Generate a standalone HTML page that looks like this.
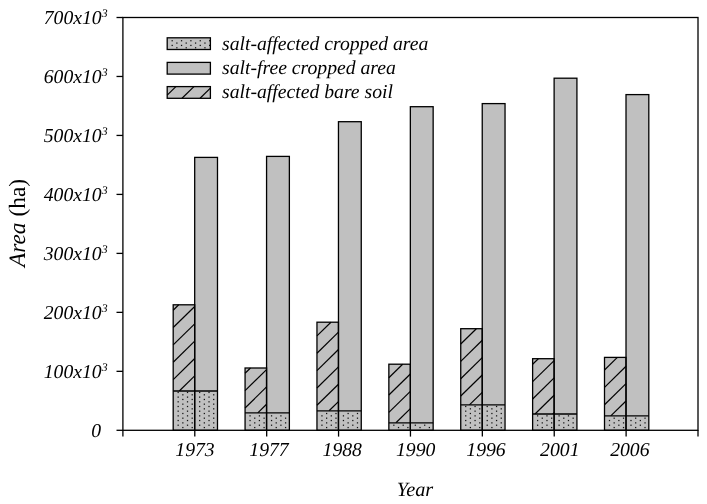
<!DOCTYPE html>
<html><head><meta charset="utf-8"><style>
html,body{margin:0;padding:0;background:#fff;width:707px;height:504px;overflow:hidden;font-family:"Liberation Serif",serif;}
svg{display:block;will-change:transform} text{text-rendering:geometricPrecision}
</style></head><body><svg width="707" height="504" viewBox="0 0 707 504"><rect x="0" y="0" width="707" height="504" fill="#fff"/><rect x="194.69" y="157.40" width="22.80" height="233.60" fill="#c0c0c0"/><rect x="173.19" y="304.80" width="21.50" height="86.20" fill="#c0c0c0"/><g stroke="#000" stroke-width="1.2"><line x1="173.19" y1="310.20" x2="178.70" y2="304.80"/><line x1="173.19" y1="327.55" x2="194.69" y2="306.48"/><line x1="173.19" y1="344.90" x2="194.69" y2="323.83"/><line x1="173.19" y1="362.25" x2="194.69" y2="341.18"/><line x1="173.19" y1="379.60" x2="194.69" y2="358.53"/><line x1="179.26" y1="391.00" x2="194.69" y2="375.88"/></g><rect x="173.19" y="391.00" width="44.30" height="39.30" fill="#c0c0c0"/><g fill="#111"><rect x="182.22" y="426.93" width="1.25" height="1.25"/><rect x="191.58" y="426.93" width="1.25" height="1.25"/><rect x="177.54" y="424.59" width="1.25" height="1.25"/><rect x="186.90" y="424.59" width="1.25" height="1.25"/><rect x="182.22" y="422.25" width="1.25" height="1.25"/><rect x="191.58" y="422.25" width="1.25" height="1.25"/><rect x="177.54" y="419.91" width="1.25" height="1.25"/><rect x="186.90" y="419.91" width="1.25" height="1.25"/><rect x="182.22" y="417.56" width="1.25" height="1.25"/><rect x="191.58" y="417.56" width="1.25" height="1.25"/><rect x="177.54" y="415.23" width="1.25" height="1.25"/><rect x="186.90" y="415.23" width="1.25" height="1.25"/><rect x="182.22" y="412.88" width="1.25" height="1.25"/><rect x="191.58" y="412.88" width="1.25" height="1.25"/><rect x="177.54" y="410.55" width="1.25" height="1.25"/><rect x="186.90" y="410.55" width="1.25" height="1.25"/><rect x="182.22" y="408.21" width="1.25" height="1.25"/><rect x="191.58" y="408.21" width="1.25" height="1.25"/><rect x="177.54" y="405.87" width="1.25" height="1.25"/><rect x="186.90" y="405.87" width="1.25" height="1.25"/><rect x="182.22" y="403.53" width="1.25" height="1.25"/><rect x="191.58" y="403.53" width="1.25" height="1.25"/><rect x="177.54" y="401.19" width="1.25" height="1.25"/><rect x="186.90" y="401.19" width="1.25" height="1.25"/><rect x="182.22" y="398.85" width="1.25" height="1.25"/><rect x="191.58" y="398.85" width="1.25" height="1.25"/><rect x="177.54" y="396.50" width="1.25" height="1.25"/><rect x="186.90" y="396.50" width="1.25" height="1.25"/><rect x="182.22" y="394.17" width="1.25" height="1.25"/><rect x="191.58" y="394.17" width="1.25" height="1.25"/><rect x="177.54" y="391.83" width="1.25" height="1.25"/><rect x="186.90" y="391.83" width="1.25" height="1.25"/><rect x="203.72" y="426.93" width="1.25" height="1.25"/><rect x="213.08" y="426.93" width="1.25" height="1.25"/><rect x="199.04" y="424.59" width="1.25" height="1.25"/><rect x="208.40" y="424.59" width="1.25" height="1.25"/><rect x="203.72" y="422.25" width="1.25" height="1.25"/><rect x="213.08" y="422.25" width="1.25" height="1.25"/><rect x="199.04" y="419.91" width="1.25" height="1.25"/><rect x="208.40" y="419.91" width="1.25" height="1.25"/><rect x="203.72" y="417.56" width="1.25" height="1.25"/><rect x="213.08" y="417.56" width="1.25" height="1.25"/><rect x="199.04" y="415.23" width="1.25" height="1.25"/><rect x="208.40" y="415.23" width="1.25" height="1.25"/><rect x="203.72" y="412.88" width="1.25" height="1.25"/><rect x="213.08" y="412.88" width="1.25" height="1.25"/><rect x="199.04" y="410.55" width="1.25" height="1.25"/><rect x="208.40" y="410.55" width="1.25" height="1.25"/><rect x="203.72" y="408.21" width="1.25" height="1.25"/><rect x="213.08" y="408.21" width="1.25" height="1.25"/><rect x="199.04" y="405.87" width="1.25" height="1.25"/><rect x="208.40" y="405.87" width="1.25" height="1.25"/><rect x="203.72" y="403.53" width="1.25" height="1.25"/><rect x="213.08" y="403.53" width="1.25" height="1.25"/><rect x="199.04" y="401.19" width="1.25" height="1.25"/><rect x="208.40" y="401.19" width="1.25" height="1.25"/><rect x="203.72" y="398.85" width="1.25" height="1.25"/><rect x="213.08" y="398.85" width="1.25" height="1.25"/><rect x="199.04" y="396.50" width="1.25" height="1.25"/><rect x="208.40" y="396.50" width="1.25" height="1.25"/><rect x="203.72" y="394.17" width="1.25" height="1.25"/><rect x="213.08" y="394.17" width="1.25" height="1.25"/><rect x="199.04" y="391.83" width="1.25" height="1.25"/><rect x="208.40" y="391.83" width="1.25" height="1.25"/></g><g fill="none" stroke="#000" stroke-width="1.3"><rect x="194.69" y="157.40" width="22.80" height="272.90"/><rect x="173.19" y="304.80" width="21.50" height="125.50"/><line x1="173.19" y1="391.00" x2="217.49" y2="391.00"/></g><rect x="266.57" y="156.40" width="22.80" height="256.50" fill="#c0c0c0"/><rect x="245.07" y="368.00" width="21.50" height="44.90" fill="#c0c0c0"/><g stroke="#000" stroke-width="1.2"><line x1="245.07" y1="373.30" x2="250.48" y2="368.00"/><line x1="245.07" y1="390.65" x2="266.57" y2="369.58"/><line x1="245.07" y1="408.00" x2="266.57" y2="386.93"/><line x1="257.78" y1="412.90" x2="266.57" y2="404.28"/></g><rect x="245.07" y="412.90" width="44.30" height="17.40" fill="#c0c0c0"/><g fill="#111"><rect x="254.11" y="426.93" width="1.25" height="1.25"/><rect x="263.47" y="426.93" width="1.25" height="1.25"/><rect x="249.43" y="424.59" width="1.25" height="1.25"/><rect x="258.79" y="424.59" width="1.25" height="1.25"/><rect x="254.11" y="422.25" width="1.25" height="1.25"/><rect x="263.47" y="422.25" width="1.25" height="1.25"/><rect x="249.43" y="419.91" width="1.25" height="1.25"/><rect x="258.79" y="419.91" width="1.25" height="1.25"/><rect x="254.11" y="417.56" width="1.25" height="1.25"/><rect x="263.47" y="417.56" width="1.25" height="1.25"/><rect x="249.43" y="415.23" width="1.25" height="1.25"/><rect x="258.79" y="415.23" width="1.25" height="1.25"/><rect x="275.61" y="426.93" width="1.25" height="1.25"/><rect x="284.97" y="426.93" width="1.25" height="1.25"/><rect x="270.93" y="424.59" width="1.25" height="1.25"/><rect x="280.29" y="424.59" width="1.25" height="1.25"/><rect x="275.61" y="422.25" width="1.25" height="1.25"/><rect x="284.97" y="422.25" width="1.25" height="1.25"/><rect x="270.93" y="419.91" width="1.25" height="1.25"/><rect x="280.29" y="419.91" width="1.25" height="1.25"/><rect x="275.61" y="417.56" width="1.25" height="1.25"/><rect x="284.97" y="417.56" width="1.25" height="1.25"/><rect x="270.93" y="415.23" width="1.25" height="1.25"/><rect x="280.29" y="415.23" width="1.25" height="1.25"/></g><g fill="none" stroke="#000" stroke-width="1.3"><rect x="266.57" y="156.40" width="22.80" height="273.90"/><rect x="245.07" y="368.00" width="21.50" height="62.30"/><line x1="245.07" y1="412.90" x2="289.38" y2="412.90"/></g><rect x="338.46" y="121.70" width="22.80" height="289.10" fill="#c0c0c0"/><rect x="316.96" y="322.20" width="21.50" height="88.60" fill="#c0c0c0"/><g stroke="#000" stroke-width="1.2"><line x1="316.96" y1="335.90" x2="330.94" y2="322.20"/><line x1="316.96" y1="353.25" x2="338.46" y2="332.18"/><line x1="316.96" y1="370.60" x2="338.46" y2="349.53"/><line x1="316.96" y1="387.95" x2="338.46" y2="366.88"/><line x1="316.96" y1="405.30" x2="338.46" y2="384.23"/><line x1="329.05" y1="410.80" x2="338.46" y2="401.58"/></g><rect x="316.96" y="410.80" width="44.30" height="19.50" fill="#c0c0c0"/><g fill="#111"><rect x="326.00" y="426.93" width="1.25" height="1.25"/><rect x="335.36" y="426.93" width="1.25" height="1.25"/><rect x="321.32" y="424.59" width="1.25" height="1.25"/><rect x="330.68" y="424.59" width="1.25" height="1.25"/><rect x="326.00" y="422.25" width="1.25" height="1.25"/><rect x="335.36" y="422.25" width="1.25" height="1.25"/><rect x="321.32" y="419.91" width="1.25" height="1.25"/><rect x="330.68" y="419.91" width="1.25" height="1.25"/><rect x="326.00" y="417.56" width="1.25" height="1.25"/><rect x="335.36" y="417.56" width="1.25" height="1.25"/><rect x="321.32" y="415.23" width="1.25" height="1.25"/><rect x="330.68" y="415.23" width="1.25" height="1.25"/><rect x="326.00" y="412.88" width="1.25" height="1.25"/><rect x="335.36" y="412.88" width="1.25" height="1.25"/><rect x="347.50" y="426.93" width="1.25" height="1.25"/><rect x="356.86" y="426.93" width="1.25" height="1.25"/><rect x="342.82" y="424.59" width="1.25" height="1.25"/><rect x="352.18" y="424.59" width="1.25" height="1.25"/><rect x="347.50" y="422.25" width="1.25" height="1.25"/><rect x="356.86" y="422.25" width="1.25" height="1.25"/><rect x="342.82" y="419.91" width="1.25" height="1.25"/><rect x="352.18" y="419.91" width="1.25" height="1.25"/><rect x="347.50" y="417.56" width="1.25" height="1.25"/><rect x="356.86" y="417.56" width="1.25" height="1.25"/><rect x="342.82" y="415.23" width="1.25" height="1.25"/><rect x="352.18" y="415.23" width="1.25" height="1.25"/><rect x="347.50" y="412.88" width="1.25" height="1.25"/><rect x="356.86" y="412.88" width="1.25" height="1.25"/></g><g fill="none" stroke="#000" stroke-width="1.3"><rect x="338.46" y="121.70" width="22.80" height="308.60"/><rect x="316.96" y="322.20" width="21.50" height="108.10"/><line x1="316.96" y1="410.80" x2="361.26" y2="410.80"/></g><rect x="410.35" y="106.70" width="22.80" height="316.10" fill="#c0c0c0"/><rect x="388.85" y="364.20" width="21.50" height="58.60" fill="#c0c0c0"/><g stroke="#000" stroke-width="1.2"><line x1="388.85" y1="377.70" x2="402.63" y2="364.20"/><line x1="388.85" y1="395.05" x2="410.35" y2="373.98"/><line x1="388.85" y1="412.40" x2="410.35" y2="391.33"/><line x1="395.94" y1="422.80" x2="410.35" y2="408.68"/></g><rect x="388.85" y="422.80" width="44.30" height="7.50" fill="#c0c0c0"/><g fill="#111"><rect x="397.89" y="426.93" width="1.25" height="1.25"/><rect x="407.25" y="426.93" width="1.25" height="1.25"/><rect x="393.21" y="424.59" width="1.25" height="1.25"/><rect x="402.57" y="424.59" width="1.25" height="1.25"/><rect x="419.39" y="426.93" width="1.25" height="1.25"/><rect x="428.75" y="426.93" width="1.25" height="1.25"/><rect x="414.71" y="424.59" width="1.25" height="1.25"/><rect x="424.07" y="424.59" width="1.25" height="1.25"/></g><g fill="none" stroke="#000" stroke-width="1.3"><rect x="410.35" y="106.70" width="22.80" height="323.60"/><rect x="388.85" y="364.20" width="21.50" height="66.10"/><line x1="388.85" y1="422.80" x2="433.15" y2="422.80"/></g><rect x="482.24" y="103.60" width="22.80" height="301.30" fill="#c0c0c0"/><rect x="460.74" y="328.70" width="21.50" height="76.20" fill="#c0c0c0"/><g stroke="#000" stroke-width="1.2"><line x1="460.74" y1="344.00" x2="476.35" y2="328.70"/><line x1="460.74" y1="361.35" x2="482.24" y2="340.28"/><line x1="460.74" y1="378.70" x2="482.24" y2="357.63"/><line x1="460.74" y1="396.05" x2="482.24" y2="374.98"/><line x1="469.41" y1="404.90" x2="482.24" y2="392.33"/></g><rect x="460.74" y="404.90" width="44.30" height="25.40" fill="#c0c0c0"/><g fill="#111"><rect x="469.77" y="426.93" width="1.25" height="1.25"/><rect x="479.13" y="426.93" width="1.25" height="1.25"/><rect x="465.09" y="424.59" width="1.25" height="1.25"/><rect x="474.45" y="424.59" width="1.25" height="1.25"/><rect x="469.77" y="422.25" width="1.25" height="1.25"/><rect x="479.13" y="422.25" width="1.25" height="1.25"/><rect x="465.09" y="419.91" width="1.25" height="1.25"/><rect x="474.45" y="419.91" width="1.25" height="1.25"/><rect x="469.77" y="417.56" width="1.25" height="1.25"/><rect x="479.13" y="417.56" width="1.25" height="1.25"/><rect x="465.09" y="415.23" width="1.25" height="1.25"/><rect x="474.45" y="415.23" width="1.25" height="1.25"/><rect x="469.77" y="412.88" width="1.25" height="1.25"/><rect x="479.13" y="412.88" width="1.25" height="1.25"/><rect x="465.09" y="410.55" width="1.25" height="1.25"/><rect x="474.45" y="410.55" width="1.25" height="1.25"/><rect x="469.77" y="408.21" width="1.25" height="1.25"/><rect x="479.13" y="408.21" width="1.25" height="1.25"/><rect x="465.09" y="405.87" width="1.25" height="1.25"/><rect x="474.45" y="405.87" width="1.25" height="1.25"/><rect x="491.27" y="426.93" width="1.25" height="1.25"/><rect x="500.63" y="426.93" width="1.25" height="1.25"/><rect x="486.59" y="424.59" width="1.25" height="1.25"/><rect x="495.95" y="424.59" width="1.25" height="1.25"/><rect x="491.27" y="422.25" width="1.25" height="1.25"/><rect x="500.63" y="422.25" width="1.25" height="1.25"/><rect x="486.59" y="419.91" width="1.25" height="1.25"/><rect x="495.95" y="419.91" width="1.25" height="1.25"/><rect x="491.27" y="417.56" width="1.25" height="1.25"/><rect x="500.63" y="417.56" width="1.25" height="1.25"/><rect x="486.59" y="415.23" width="1.25" height="1.25"/><rect x="495.95" y="415.23" width="1.25" height="1.25"/><rect x="491.27" y="412.88" width="1.25" height="1.25"/><rect x="500.63" y="412.88" width="1.25" height="1.25"/><rect x="486.59" y="410.55" width="1.25" height="1.25"/><rect x="495.95" y="410.55" width="1.25" height="1.25"/><rect x="491.27" y="408.21" width="1.25" height="1.25"/><rect x="500.63" y="408.21" width="1.25" height="1.25"/><rect x="486.59" y="405.87" width="1.25" height="1.25"/><rect x="495.95" y="405.87" width="1.25" height="1.25"/></g><g fill="none" stroke="#000" stroke-width="1.3"><rect x="482.24" y="103.60" width="22.80" height="326.70"/><rect x="460.74" y="328.70" width="21.50" height="101.60"/><line x1="460.74" y1="404.90" x2="505.04" y2="404.90"/></g><rect x="554.12" y="78.20" width="22.80" height="335.80" fill="#c0c0c0"/><rect x="532.62" y="358.70" width="21.50" height="55.30" fill="#c0c0c0"/><g stroke="#000" stroke-width="1.2"><line x1="532.62" y1="364.30" x2="538.34" y2="358.70"/><line x1="532.62" y1="381.65" x2="554.12" y2="360.58"/><line x1="532.62" y1="399.00" x2="554.12" y2="377.93"/><line x1="535.02" y1="414.00" x2="554.12" y2="395.28"/><line x1="552.73" y1="414.00" x2="554.12" y2="412.63"/></g><rect x="532.62" y="414.00" width="44.30" height="16.30" fill="#c0c0c0"/><g fill="#111"><rect x="541.66" y="426.93" width="1.25" height="1.25"/><rect x="551.02" y="426.93" width="1.25" height="1.25"/><rect x="536.98" y="424.59" width="1.25" height="1.25"/><rect x="546.34" y="424.59" width="1.25" height="1.25"/><rect x="541.66" y="422.25" width="1.25" height="1.25"/><rect x="551.02" y="422.25" width="1.25" height="1.25"/><rect x="536.98" y="419.91" width="1.25" height="1.25"/><rect x="546.34" y="419.91" width="1.25" height="1.25"/><rect x="541.66" y="417.56" width="1.25" height="1.25"/><rect x="551.02" y="417.56" width="1.25" height="1.25"/><rect x="536.98" y="415.23" width="1.25" height="1.25"/><rect x="546.34" y="415.23" width="1.25" height="1.25"/><rect x="563.16" y="426.93" width="1.25" height="1.25"/><rect x="572.52" y="426.93" width="1.25" height="1.25"/><rect x="558.48" y="424.59" width="1.25" height="1.25"/><rect x="567.84" y="424.59" width="1.25" height="1.25"/><rect x="563.16" y="422.25" width="1.25" height="1.25"/><rect x="572.52" y="422.25" width="1.25" height="1.25"/><rect x="558.48" y="419.91" width="1.25" height="1.25"/><rect x="567.84" y="419.91" width="1.25" height="1.25"/><rect x="563.16" y="417.56" width="1.25" height="1.25"/><rect x="572.52" y="417.56" width="1.25" height="1.25"/><rect x="558.48" y="415.23" width="1.25" height="1.25"/><rect x="567.84" y="415.23" width="1.25" height="1.25"/></g><g fill="none" stroke="#000" stroke-width="1.3"><rect x="554.12" y="78.20" width="22.80" height="352.10"/><rect x="532.62" y="358.70" width="21.50" height="71.60"/><line x1="532.62" y1="414.00" x2="576.92" y2="414.00"/></g><rect x="626.01" y="94.60" width="22.80" height="321.30" fill="#c0c0c0"/><rect x="604.51" y="357.40" width="21.50" height="58.50" fill="#c0c0c0"/><g stroke="#000" stroke-width="1.2"><line x1="604.51" y1="370.00" x2="617.37" y2="357.40"/><line x1="604.51" y1="387.35" x2="626.01" y2="366.28"/><line x1="604.51" y1="404.70" x2="626.01" y2="383.63"/><line x1="610.79" y1="415.90" x2="626.01" y2="400.98"/></g><rect x="604.51" y="415.90" width="44.30" height="14.40" fill="#c0c0c0"/><g fill="#111"><rect x="613.55" y="426.93" width="1.25" height="1.25"/><rect x="622.91" y="426.93" width="1.25" height="1.25"/><rect x="608.87" y="424.59" width="1.25" height="1.25"/><rect x="618.23" y="424.59" width="1.25" height="1.25"/><rect x="613.55" y="422.25" width="1.25" height="1.25"/><rect x="622.91" y="422.25" width="1.25" height="1.25"/><rect x="608.87" y="419.91" width="1.25" height="1.25"/><rect x="618.23" y="419.91" width="1.25" height="1.25"/><rect x="613.55" y="417.56" width="1.25" height="1.25"/><rect x="622.91" y="417.56" width="1.25" height="1.25"/><rect x="635.05" y="426.93" width="1.25" height="1.25"/><rect x="644.41" y="426.93" width="1.25" height="1.25"/><rect x="630.37" y="424.59" width="1.25" height="1.25"/><rect x="639.73" y="424.59" width="1.25" height="1.25"/><rect x="635.05" y="422.25" width="1.25" height="1.25"/><rect x="644.41" y="422.25" width="1.25" height="1.25"/><rect x="630.37" y="419.91" width="1.25" height="1.25"/><rect x="639.73" y="419.91" width="1.25" height="1.25"/><rect x="635.05" y="417.56" width="1.25" height="1.25"/><rect x="644.41" y="417.56" width="1.25" height="1.25"/></g><g fill="none" stroke="#000" stroke-width="1.3"><rect x="626.01" y="94.60" width="22.80" height="335.70"/><rect x="604.51" y="357.40" width="21.50" height="72.90"/><line x1="604.51" y1="415.90" x2="648.81" y2="415.90"/></g><g fill="none" stroke="#000" stroke-width="1.3"><rect x="122.9" y="17.5" width="575.10" height="412.80"/><line x1="116.5" y1="430.30" x2="122.9" y2="430.30"/><line x1="116.5" y1="371.33" x2="122.9" y2="371.33"/><line x1="116.5" y1="312.36" x2="122.9" y2="312.36"/><line x1="116.5" y1="253.39" x2="122.9" y2="253.39"/><line x1="116.5" y1="194.41" x2="122.9" y2="194.41"/><line x1="116.5" y1="135.44" x2="122.9" y2="135.44"/><line x1="116.5" y1="76.47" x2="122.9" y2="76.47"/><line x1="116.5" y1="17.50" x2="122.9" y2="17.50"/><line x1="122.90" y1="430.3" x2="122.90" y2="436.6"/><line x1="194.79" y1="430.3" x2="194.79" y2="436.6"/><line x1="266.68" y1="430.3" x2="266.68" y2="436.6"/><line x1="338.56" y1="430.3" x2="338.56" y2="436.6"/><line x1="410.45" y1="430.3" x2="410.45" y2="436.6"/><line x1="482.34" y1="430.3" x2="482.34" y2="436.6"/><line x1="554.23" y1="430.3" x2="554.23" y2="436.6"/><line x1="626.11" y1="430.3" x2="626.11" y2="436.6"/><line x1="698.00" y1="430.3" x2="698.00" y2="436.6"/></g><rect x="167.2" y="37.8" width="43.2" height="11.7" fill="#c0c0c0"/><g fill="#111"><rect x="171.56" y="40.11" width="1.25" height="1.25"/><rect x="180.92" y="40.11" width="1.25" height="1.25"/><rect x="190.28" y="40.11" width="1.25" height="1.25"/><rect x="199.64" y="40.11" width="1.25" height="1.25"/><rect x="209.00" y="40.11" width="1.25" height="1.25"/><rect x="176.24" y="42.45" width="1.25" height="1.25"/><rect x="185.60" y="42.45" width="1.25" height="1.25"/><rect x="194.96" y="42.45" width="1.25" height="1.25"/><rect x="204.32" y="42.45" width="1.25" height="1.25"/><rect x="171.56" y="44.80" width="1.25" height="1.25"/><rect x="180.92" y="44.80" width="1.25" height="1.25"/><rect x="190.28" y="44.80" width="1.25" height="1.25"/><rect x="199.64" y="44.80" width="1.25" height="1.25"/><rect x="209.00" y="44.80" width="1.25" height="1.25"/><rect x="176.24" y="47.13" width="1.25" height="1.25"/><rect x="185.60" y="47.13" width="1.25" height="1.25"/><rect x="194.96" y="47.13" width="1.25" height="1.25"/><rect x="204.32" y="47.13" width="1.25" height="1.25"/></g><rect x="167.2" y="37.8" width="43.2" height="11.7" fill="none" stroke="#000" stroke-width="1.3"/><rect x="167.2" y="62.4" width="43.2" height="11.7" fill="#c0c0c0"/><rect x="167.2" y="62.4" width="43.2" height="11.7" fill="none" stroke="#000" stroke-width="1.3"/><rect x="167.2" y="86.6" width="43.2" height="11.7" fill="#c0c0c0"/><g stroke="#000" stroke-width="1.2"><line x1="167.20" y1="95.10" x2="175.87" y2="86.60"/><line x1="182.00" y1="98.30" x2="193.93" y2="86.60"/><line x1="200.06" y1="98.30" x2="210.40" y2="88.16"/></g><rect x="167.2" y="86.6" width="43.2" height="11.7" fill="none" stroke="#000" stroke-width="1.3"/><g font-family="Liberation Serif" font-style="italic" font-size="19.7" fill="#000"><text x="101" y="436.90" text-anchor="end">0</text><text x="107.6" y="377.93" text-anchor="end">100x10<tspan font-size="11.8" dy="-7.4">3</tspan></text><text x="107.6" y="318.96" text-anchor="end">200x10<tspan font-size="11.8" dy="-7.4">3</tspan></text><text x="107.6" y="259.99" text-anchor="end">300x10<tspan font-size="11.8" dy="-7.4">3</tspan></text><text x="107.6" y="201.01" text-anchor="end">400x10<tspan font-size="11.8" dy="-7.4">3</tspan></text><text x="107.6" y="142.04" text-anchor="end">500x10<tspan font-size="11.8" dy="-7.4">3</tspan></text><text x="107.6" y="83.07" text-anchor="end">600x10<tspan font-size="11.8" dy="-7.4">3</tspan></text><text x="107.6" y="24.10" text-anchor="end">700x10<tspan font-size="11.8" dy="-7.4">3</tspan></text><text x="195.00" y="455.8" text-anchor="middle">1973</text><text x="269.00" y="455.8" text-anchor="middle">1977</text><text x="342.25" y="455.8" text-anchor="middle">1988</text><text x="415.65" y="455.8" text-anchor="middle">1990</text><text x="486.00" y="455.8" text-anchor="middle">1996</text><text x="559.80" y="455.8" text-anchor="middle">2001</text><text x="629.85" y="455.8" text-anchor="middle">2006</text><text x="222" y="50.2">salt-affected cropped area</text><text x="222" y="74.4">salt-free cropped area</text><text x="222" y="98.4">salt-affected bare soil</text></g><text x="415" y="496.3" text-anchor="middle" font-family="Liberation Serif" font-style="italic" font-size="20.3">Year</text><text transform="translate(24.5,223) rotate(-90)" text-anchor="middle" font-family="Liberation Serif" font-size="23.4"><tspan font-style="italic">Area</tspan> (ha)</text></svg></body></html>
